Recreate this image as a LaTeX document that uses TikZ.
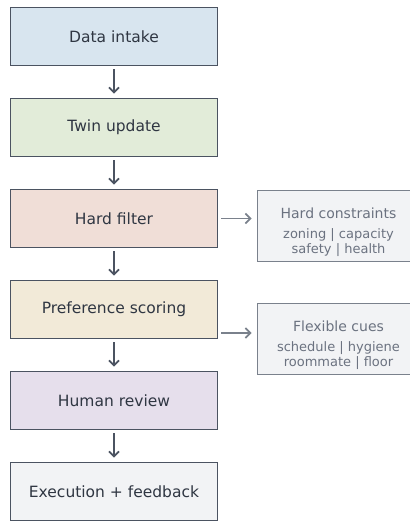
\documentclass[tikz,border=0pt]{standalone}
\usepackage{fontspec}
\setmainfont{DejaVu Sans}
\usetikzlibrary{positioning, arrows.meta}

\definecolor{ink}{HTML}{2F3642}
\definecolor{edge}{HTML}{4B5361}
\definecolor{soft}{HTML}{7A818C}
\definecolor{softtext}{HTML}{6B7280}
\definecolor{cblue}{HTML}{D8E5EF}
\definecolor{cgreen}{HTML}{E2ECD9}
\definecolor{cred}{HTML}{F0DED7}
\definecolor{cyellow}{HTML}{F2EAD8}
\definecolor{cviolet}{HTML}{E6DFEC}
\definecolor{cgray}{HTML}{F2F3F5}

\begin{document}
\begin{tikzpicture}
\tikzstyle{stage}=[rectangle, draw=edge, line width=1.8pt, minimum width=207pt, minimum height=58pt, text=ink, font=\fontsize{15.5}{18}\selectfont, node distance=31.2pt]
\tikzstyle{side}=[rectangle, draw=soft, line width=1.8pt, fill=cgray, minimum width=162pt, minimum height=71pt, text=softtext, align=center, font=\fontsize{13}{15}\selectfont]
\tikzstyle{connect}=[-{Straight Barb[length=5pt, width=10pt]}, line width=1.7pt, draw=edge, shorten <=3pt, shorten >=4pt]
\tikzstyle{aside}=[-{Straight Barb[length=5pt, width=10pt]}, line width=1.7pt, draw=soft, shorten <=3pt, shorten >=5pt]
    \useasboundingbox (0,0) rectangle (409pt,-521pt);
    \node[stage, fill=cblue] (intake) at (114pt,-36.5pt) {Data intake};
    \node[stage, fill=cgreen] (twin) [below=of intake] {Twin update};
    \node[stage, fill=cred] (filter) [below=of twin] {Hard filter};
    \node[stage, fill=cyellow] (scoring) [below=of filter] {Preference scoring};
    \node[stage, fill=cviolet] (review) [below=of scoring] {Human review};
    \node[stage, fill=cgray] (exec) [below=of review] {Execution + feedback};
    % the rule pushes the three lines a little down in the box
    \node[side] (hard) [right=38.2pt of filter, yshift=-7.5pt] {\rule{0pt}{22.5pt}{\fontsize{14}{15}\selectfont Hard constraints}\\[5pt] zoning | capacity\\ safety | health};
    \node[side] (flex) [below=40.2pt of hard] {\rule{0pt}{22.5pt}{\fontsize{14}{15}\selectfont Flexible cues}\\[5pt] schedule | hygiene\\ roommate | floor};
    \path (intake) edge [connect] (twin)
          (twin) edge [connect] (filter)
          (filter) edge [connect] (scoring)
          (scoring) edge [connect] (review)
          (review) edge [connect] (exec);
    \draw[aside] (filter.east) -- (filter.east -| hard.west);
    \draw[aside] ([yshift=-23.5pt]scoring.east) -- ([yshift=-23.5pt]scoring.east -| flex.west);
\end{tikzpicture}
\end{document}
